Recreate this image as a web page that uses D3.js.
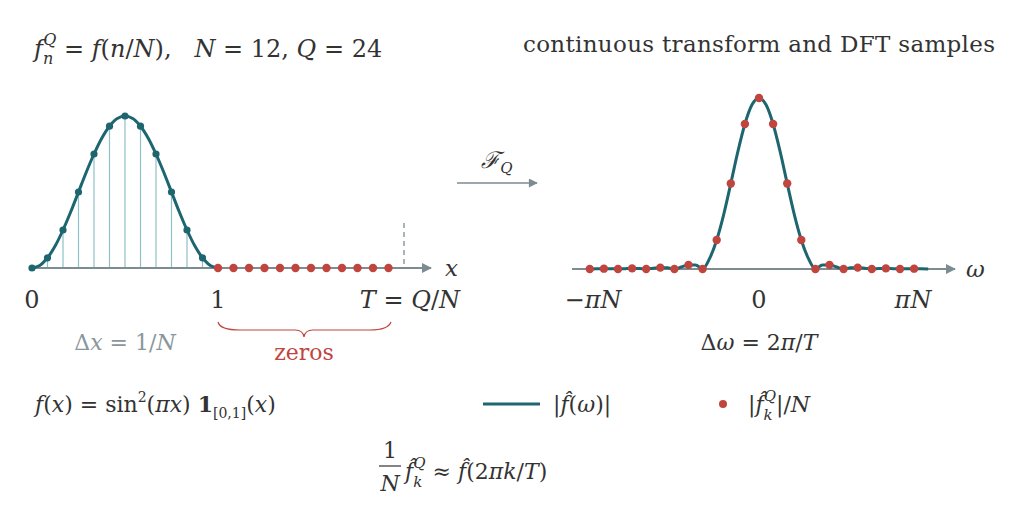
<!DOCTYPE html>
<html><head><meta charset="utf-8">
<script src="https://cdn.jsdelivr.net/npm/d3@7"></script>
<style>body{margin:0;background:#fff}text{font-family:"DejaVu Serif",serif;fill:#333;white-space:pre}</style>
</head><body><svg id="c" width="1020" height="526"></svg>
<script>
// ---- data ----
const sampleX = [0,1/12,2/12,3/12,4/12,5/12,6/12,7/12,8/12,9/12,10/12,11/12];
const sampleY = [0,0.067,0.25,0.5,0.75,0.933,1,0.933,0.75,0.5,0.25,0.067];
const zeroX = [1,13/12,14/12,15/12,16/12,17/12,18/12,19/12,20/12,21/12,22/12,23/12];
const curveX = [0,0.5,1,1.5,2,2.5,3,3.5,4,4.5,5,5.5,6,6.5,7,7.5,8,8.5,9,9.5,10,10.5,11,11.5,12].map(v=>v/12);
const curveY = [0,0.017,0.067,0.146,0.25,0.37,0.5,0.63,0.75,0.854,0.933,0.983,1,0.983,0.933,0.854,0.75,0.63,0.5,0.37,0.25,0.146,0.067,0.017,0];
// |f^(ω)| sampled at ω = t·π, t>=0 (even function)
const specT = [0,0.5,1,1.5,2,2.5,3,3.5,4,4.5,5,5.5,6,6.5,7,7.5,8,8.5,9,9.5,10,10.5,11,11.5,12];
const specV = [0.5,0.48,0.424,0.343,0.25,0.16,0.085,0.031,0,0.012,0.012,0.006,0,0.0036,0.004,0.0023,0,0.0015,0.0018,0.001,0,0.0008,0.001,0.0006,0];
const dftK = [-12,-11,-10,-9,-8,-7,-6,-5,-4,-3,-2,-1,0,1,2,3,4,5,6,7,8,9,10,11];
const dftV = [0,0.001,0,0.0018,0,0.004,0,0.012,0,0.085,0.25,0.424,0.5,0.424,0.25,0.085,0,0.012,0,0.004,0,0.0018,0,0.001];

const teal="#1d6670", red="#c0453f", gray="#7d8b93", light="#8fbfc7";
const svg=d3.select("#c");
const defs=svg.append("defs");
defs.append("marker").attr("id","ar").attr("viewBox","0 0 10 10").attr("refX",9).attr("refY",5)
 .attr("markerWidth",14).attr("markerHeight",10).attr("markerUnits","userSpaceOnUse").attr("orient","auto")
 .append("path").attr("d","M0,0L10,5L0,10z").attr("fill",gray);
defs.append("marker").attr("id","ar2").attr("viewBox","0 0 10 10").attr("refX",9).attr("refY",5)
 .attr("markerWidth",12).attr("markerHeight",9).attr("markerUnits","userSpaceOnUse").attr("orient","auto")
 .append("path").attr("d","M0,0L10,5L0,10z").attr("fill",gray);

// ---- left panel ----
const x=d3.scaleLinear().domain([0,2]).range([32,404]);
const y=d3.scaleLinear().domain([0,1]).range([268,116]);
const L=svg.append("g");
L.selectAll(".v").data(sampleX).join("line").attr("x1",d=>x(d)).attr("x2",d=>x(d))
 .attr("y1",y(0)).attr("y2",(d,i)=>y(sampleY[i])).attr("stroke",light).attr("stroke-width",1.2);
L.append("line").attr("x1",x(0)).attr("x2",431).attr("y1",y(0)).attr("y2",y(0)).attr("stroke",gray).attr("stroke-width",2).attr("marker-end","url(#ar)");
L.append("line").attr("x1",x(2)).attr("x2",x(2)).attr("y1",223).attr("y2",y(0)).attr("stroke",gray).attr("stroke-width",1.3).attr("stroke-dasharray","5,4");
L.append("path").datum(curveX.map((d,i)=>[d,curveY[i]]))
 .attr("d",d3.line().x(d=>x(d[0])).y(d=>y(d[1])).curve(d3.curveCatmullRom))
 .attr("fill","none").attr("stroke",teal).attr("stroke-width",3);
L.selectAll(".s").data(sampleX).join("circle").attr("cx",d=>x(d)).attr("cy",(d,i)=>y(sampleY[i])).attr("r",3.6).attr("fill",teal);
L.selectAll(".z").data(zeroX).join("circle").attr("cx",d=>x(d)).attr("cy",y(0)).attr("r",4.2).attr("fill",red);

// ---- right panel ----
const w=d3.scaleLinear().domain([-12,12]).range([759-12*14.1,759+12*14.1]);
const v=d3.scaleLinear().domain([0,0.5]).range([269,98]);
const R=svg.append("g");
R.append("line").attr("x1",572).attr("x2",955).attr("y1",v(0)).attr("y2",v(0)).attr("stroke",gray).attr("stroke-width",2).attr("marker-end","url(#ar)");
const pts=specT.slice().reverse().map((t,i)=>[-t,specV[specT.length-1-i]]).concat(specT.slice(1).map((t,i)=>[t,specV[i+1]]));
R.append("path").datum(pts).attr("d",d3.line().x(d=>w(d[0])).y(d=>v(d[1])).curve(d3.curveMonotoneX))
 .attr("fill","none").attr("stroke",teal).attr("stroke-width",3);
R.selectAll("circle").data(dftK).join("circle").attr("cx",d=>w(d)).attr("cy",(d,i)=>v(dftV[i])).attr("r",4.2).attr("fill",red);

// ---- arrow F_Q ----
svg.append("line").attr("x1",457).attr("x2",537).attr("y1",183).attr("y2",183).attr("stroke",gray).attr("stroke-width",1.5).attr("marker-end","url(#ar2)");

// ---- texts ----
const S=23;
function T(xp,yp,size,anchor,fill){return svg.append("text").attr("x",xp).attr("y",yp).attr("font-size",size).attr("text-anchor",anchor||"start").style("fill",fill||"#333");}
let t;
t=T(34,57,S+1);
t.append("tspan").attr("font-style","italic").text("f");
t.append("tspan").attr("font-style","italic").attr("font-size",16).attr("dy",7).text("n");
t.append("tspan").attr("font-style","italic").attr("font-size",16).attr("dx",-10).attr("dy",-19).text("Q");
t.append("tspan").attr("dy",12).text(" = ");
t.append("tspan").attr("font-style","italic").text("f");
t.append("tspan").text("(");
t.append("tspan").attr("font-style","italic").text("n");
t.append("tspan").text("/");
t.append("tspan").attr("font-style","italic").text("N");
t.append("tspan").text("),\u00a0\u00a0\u00a0");
t.append("tspan").attr("font-style","italic").text("N");
t.append("tspan").text(" = 12, ");
t.append("tspan").attr("font-style","italic").text("Q");
t.append("tspan").text(" = 24");

T(995,52,S,"end").attr("textLength",472).text("continuous transform and DFT samples");

t=T(497,168,S,"middle");
t.append("tspan").attr("font-style","italic").text("ℱ");
t.append("tspan").attr("font-style","italic").attr("font-size",15).attr("dy",5).text("Q");

T(445,276,S,"start").attr("font-style","italic").text("x");
T(966,277,S,"start").attr("font-style","italic").text("ω");
T(32,308,S+1,"middle").text("0");
T(218,308,S+1,"middle").text("1");
t=T(460,308,S+1,"end");
t.append("tspan").attr("font-style","italic").text("T");
t.append("tspan").text(" = ");
t.append("tspan").attr("font-style","italic").text("Q");
t.append("tspan").text("/");
t.append("tspan").attr("font-style","italic").text("N");

t=T(125,350,S-1,"middle","#8a969c");
t.append("tspan").text("Δ").style("fill","#8a969c");
t.append("tspan").attr("font-style","italic").text("x").style("fill","#8a969c");
t.append("tspan").text(" = 1/").style("fill","#8a969c");
t.append("tspan").attr("font-style","italic").text("N").style("fill","#8a969c");

svg.append("path").attr("d","M218,322 Q220,330 240,330 L295,330 Q303,330 304,337 Q305,330 313,330 L370,330 Q388,330 391,322")
 .attr("fill","none").attr("stroke",red).attr("stroke-width",1.2);
T(304,360,S-1,"middle",red).text("zeros");

t=T(593,308,S+1,"middle"); t.append("tspan").text("−"); t.append("tspan").attr("font-style","italic").text("πN");
T(759,308,S+1,"middle").text("0");
t=T(913,308,S+1,"middle"); t.append("tspan").attr("font-style","italic").text("πN");
t=T(759,350,S-1,"middle");
t.append("tspan").text("Δ");
t.append("tspan").attr("font-style","italic").text("ω");
t.append("tspan").text(" = 2");
t.append("tspan").attr("font-style","italic").text("π");
t.append("tspan").text("/");
t.append("tspan").attr("font-style","italic").text("T");

// legend / definitions row
t=T(35,412,S-1);
t.append("tspan").attr("font-style","italic").text("f");
t.append("tspan").text("(");
t.append("tspan").attr("font-style","italic").text("x");
t.append("tspan").text(") = sin");
t.append("tspan").attr("font-size",14).attr("dy",-10).text("2");
t.append("tspan").attr("dy",10).text("(");
t.append("tspan").attr("font-style","italic").text("πx");
t.append("tspan").text(") ");
t.append("tspan").attr("font-weight","bold").text("1");
t.append("tspan").attr("font-size",14).attr("dy",6).text("[0,1]");
t.append("tspan").attr("dy",-6).text("(");
t.append("tspan").attr("font-style","italic").text("x");
t.append("tspan").text(")");

svg.append("line").attr("x1",483).attr("x2",540).attr("y1",404).attr("y2",404).attr("stroke",teal).attr("stroke-width",3);
t=T(553,412,S-1);
t.append("tspan").text("|");
t.append("tspan").attr("font-style","italic").text("f\u0302");
t.append("tspan").text("(");
t.append("tspan").attr("font-style","italic").text("ω");
t.append("tspan").text(")|");

svg.append("circle").attr("cx",723).attr("cy",404).attr("r",4).attr("fill",red);
t=T(748,412,S-1);
t.append("tspan").text("|");
t.append("tspan").attr("font-style","italic").text("f\u0302");
t.append("tspan").attr("font-style","italic").attr("font-size",15).attr("dy",8).text("k");
t.append("tspan").attr("font-style","italic").attr("font-size",15).attr("dx",-9).attr("dy",-19).text("Q");
t.append("tspan").attr("dy",11).text("|/");
t.append("tspan").attr("font-style","italic").text("N");

// bottom formula
T(390,458,S-1,"middle").text("1");
svg.append("line").attr("x1",379).attr("x2",401).attr("y1",466).attr("y2",466).attr("stroke","#333").attr("stroke-width",1.2);
T(390,491,S-1,"middle").attr("font-style","italic").text("N");
t=T(405,479,S-1);
t.append("tspan").attr("font-style","italic").text("f\u0302");
t.append("tspan").attr("font-style","italic").attr("font-size",15).attr("dy",8).text("k");
t.append("tspan").attr("font-style","italic").attr("font-size",15).attr("dx",-9).attr("dy",-19).text("Q");
t.append("tspan").attr("dy",11).text(" ≈ ");
t.append("tspan").attr("font-style","italic").text("f\u0302");
t.append("tspan").text("(2");
t.append("tspan").attr("font-style","italic").text("πk");
t.append("tspan").text("/");
t.append("tspan").attr("font-style","italic").text("T");
t.append("tspan").text(")");
</script></body></html>
